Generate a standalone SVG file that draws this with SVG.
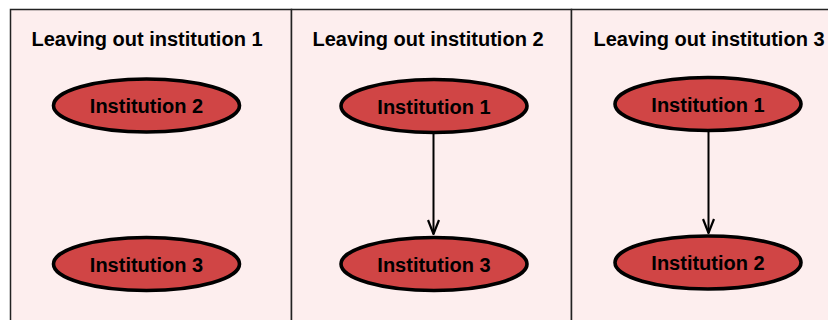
<svg xmlns="http://www.w3.org/2000/svg" width="828" height="320" viewBox="0 0 828 320">
  <style>
    .panel { fill: #fdeeee; stroke: #222; stroke-width: 1.5; }
    .title { font-family: "Liberation Sans", Arial, sans-serif; font-weight: bold; font-size: 20px; fill: #000; text-anchor: middle; }
    .node ellipse { fill: #d04545; stroke: #000; stroke-width: 3.6; }
    .node text { font-family: "Liberation Sans", Arial, sans-serif; font-weight: bold; font-size: 20px; fill: #000; text-anchor: middle; dominant-baseline: central; }
    .edge { stroke: #000; stroke-width: 2; fill: none; marker-end: url(#arrow); }
  </style>
  <defs>
    <!-- open V arrowhead, drawn pointing along +x -->
    <marker id="arrow" viewBox="0 0 16 14" refX="15" refY="7" markerWidth="16" markerHeight="14" markerUnits="userSpaceOnUse" orient="auto">
      <path d="M1,1.5 L15,7 L1,12.5" fill="none" stroke="#000" stroke-width="2.2"/>
    </marker>
  </defs>
  <rect width="828" height="320" fill="#ffffff"/>

  <!-- panels -->
  <g id="panels">
    <rect class="panel" x="10.5" y="9.5" width="281" height="320"/>
    <rect class="panel" x="291.5" y="9.5" width="280" height="320"/>
    <rect class="panel" x="571.5" y="9.5" width="270" height="320"/>
  </g>

  <!-- titles -->
  <text class="title" x="147" y="46">Leaving out institution 1</text>
  <text class="title" x="428" y="46">Leaving out institution 2</text>
  <text class="title" x="709" y="46">Leaving out institution 3</text>

  <!-- connectors -->
  <g id="connectors">
    <line class="edge" x1="433.5" y1="133" x2="433.5" y2="234"/>
    <line class="edge" x1="708.5" y1="131" x2="708.5" y2="233"/>
  </g>

  <!-- panel 1 nodes -->
  <g id="p1-inst2" class="node">
    <ellipse cx="146.5" cy="105.5" rx="93" ry="26.5"/>
    <text x="146.5" y="106">Institution 2</text>
  </g>
  <g id="p1-inst3" class="node">
    <ellipse cx="146.5" cy="264" rx="93" ry="26.5"/>
    <text x="146.5" y="264.5">Institution 3</text>
  </g>

  <!-- panel 2 nodes -->
  <g id="p2-inst1" class="node">
    <ellipse cx="434" cy="106" rx="93" ry="26.5"/>
    <text x="434" y="106.5">Institution 1</text>
  </g>
  <g id="p2-inst3" class="node">
    <ellipse cx="434" cy="264" rx="93" ry="26.5"/>
    <text x="434" y="264.5">Institution 3</text>
  </g>

  <!-- panel 3 nodes -->
  <g id="p3-inst1" class="node">
    <ellipse cx="708" cy="104" rx="93" ry="26.5"/>
    <text x="708" y="104.5">Institution 1</text>
  </g>
  <g id="p3-inst2" class="node">
    <ellipse cx="708" cy="262.5" rx="93" ry="26.5"/>
    <text x="708" y="263">Institution 2</text>
  </g>
</svg>
